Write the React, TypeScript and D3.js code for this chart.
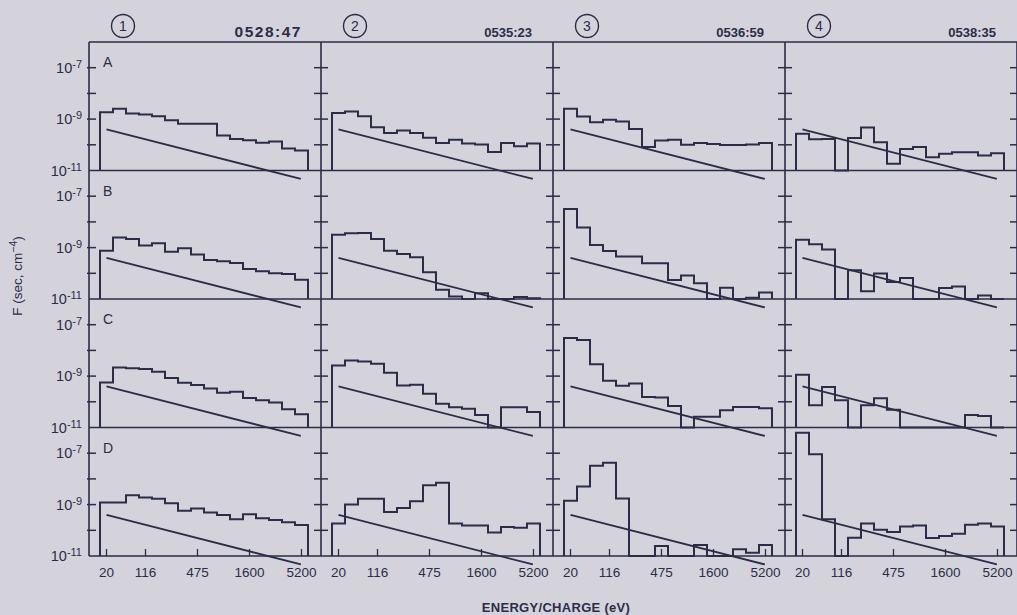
import React from 'react';
import * as d3 from 'd3';

const W = 1017;
const H = 615;

const panelNumbers = ['1', '2', '3', '4'];
const times = ['0528:47', '0535:23', '0536:59', '0538:35'];
const rowLetters = ['A', 'B', 'C', 'D'];
const energyLabels = ['20', '116', '475', '1600', '5200'];
const energyChannels = [0, 3, 7, 11, 15];
const yLabelExps = [-7, -9, -11];
const yTickExps = [-7, -8, -9, -10];
const nChannels = 16;

// log10 F for each of the 16 energy channels, null = no counts
const p1A = [-8.73, -8.6, -8.78, -8.82, -8.89, -9.04, -9.18, -9.18, -9.18, -9.64, -9.77, -9.82, -9.92, -9.87, -10.14, -10.22];
const p2A = [-8.76, -8.7, -8.89, -9.32, -9.54, -9.44, -9.54, -9.73, -9.93, -9.8, -9.95, -9.99, -10.28, -9.93, -10.06, -9.95];
const p3A = [-8.6, -8.9, -9.12, -9.03, -9.09, -9.39, -10.09, -9.83, -9.8, -10.0, -9.93, -9.97, -10.01, -10.01, -9.99, -9.93];
const p4A = [-9.57, -9.78, -9.77, null, -9.74, -9.33, -9.9, -10.74, -10.16, -10.09, -10.48, -10.35, -10.29, -10.29, -10.42, -10.33];

const p1B = [-9.12, -8.61, -8.67, -8.92, -8.83, -9.16, -9.03, -9.27, -9.48, -9.53, -9.6, -9.83, -9.92, -10.0, -10.03, -10.25];
const p2B = [-8.5, -8.44, -8.43, -8.67, -9.12, -9.25, -9.38, -9.96, -10.64, -10.9, null, -10.78, null, null, -10.92, -10.97];
const p3B = [-7.5, -8.22, -8.9, -9.13, -9.35, -9.35, -9.61, -9.61, -10.26, -10.09, -10.39, null, -10.56, null, -10.95, -10.75];
const p4B = [-8.69, -8.87, -9.07, null, -9.88, -10.7, -10.01, -10.34, -10.18, null, null, -10.57, -10.51, null, -10.86, null];

const p1C = [-9.25, -8.67, -8.69, -8.72, -8.83, -9.07, -9.26, -9.35, -9.48, -9.65, -9.61, -9.85, -9.94, -10.03, -10.29, -10.48];
const p2C = [-8.59, -8.39, -8.43, -8.52, -8.87, -9.37, -9.34, -9.69, -10.08, -10.21, -10.27, -10.51, null, -10.21, -10.21, -10.4];
const p3C = [-7.52, -7.6, -8.54, -9.18, -9.38, -9.29, -9.81, -9.83, -10.16, null, -10.58, -10.58, -10.33, -10.2, -10.2, -10.25];
const p4C = [-8.95, -10.13, -9.42, -9.94, null, -10.13, -9.86, -10.31, null, null, null, null, null, -10.51, -10.55, null];

const p1D = [-8.92, -8.92, -8.64, -8.72, -8.77, -8.95, -9.24, -9.15, -9.31, -9.4, -9.57, -9.38, -9.53, -9.6, -9.69, -9.79];
const p2D = [-9.74, -9.0, -8.77, -8.77, -9.29, -9.13, -8.87, -8.25, -8.15, -9.74, -9.81, -9.81, -10.09, -9.87, -9.9, -9.74];
const p3D = [-8.85, -8.3, -7.49, -7.37, -8.76, null, null, -10.61, null, null, -10.57, null, null, -10.74, -10.87, -10.57];
const p4D = [-6.2, -7.04, -9.57, null, -10.29, -9.74, -9.98, -10.07, -9.85, -9.81, -10.3, -10.22, -10.13, -9.78, -9.74, -9.85];

// reference line (channel, log10 F), same in every panel
const refChannels = [0.5, 15.45];
const refExps = [-9.4, -11.33];

const panels = [
  [p1A, p2A, p3A, p4A],
  [p1B, p2B, p3B, p4B],
  [p1C, p2C, p3C, p4C],
  [p1D, p2D, p3D, p4D],
];

const ink = '#2b2d48';
const font = '"Liberation Sans", Arial, Helvetica, sans-serif';

export default function App() {
  const xCol = d3.scaleLinear().domain([0, 4]).range([89, 1017]);
  const yRow = d3.scaleLinear().domain([0, 4]).range([42, 556]);

  const xIn = (c: number) =>
    d3.scaleLinear().domain([0, nChannels]).range([xCol(c) + 11, xCol(c) + 219]);
  const yIn = (r: number) =>
    d3.scaleLog().domain([1e-11, 1e-6]).range([yRow(r + 1), yRow(r)]);

  const items: React.ReactNode[] = [];

  panels.forEach((row, r) => {
    const y = yIn(r);
    row.forEach((vals, c) => {
      const x = xIn(c);
      const pts: [number, number][] = [[0, 1e-11]];
      vals.forEach((e, i) => {
        const v = e == null ? 1e-11 : Math.pow(10, e);
        pts.push([i, v], [i + 1, v]);
      });
      pts.push([nChannels, 1e-11]);
      const line = d3
        .line<[number, number]>()
        .x((d) => x(d[0]))
        .y((d) => y(d[1]));
      items.push(
        <path key={`h${r}${c}`} d={line(pts) || ''} fill="none" stroke={ink}
          strokeWidth={2} strokeLinejoin="miter" />
      );
      const ref: [number, number][] = refChannels.map((ch, i) => [ch, Math.pow(10, refExps[i])]);
      items.push(
        <path key={`r${r}${c}`} d={line(ref) || ''} fill="none" stroke={ink} strokeWidth={1.8} />
      );
    });

    // ticks on vertical separators
    d3.range(5).forEach((c) => {
      const xs = xCol(c);
      yTickExps.forEach((e) => {
        const yy = y(Math.pow(10, e));
        const x1 = c === 0 ? xs - 2 : xs - 7;
        const x2 = c === 4 ? xs : xs + 7;
        items.push(
          <line key={`t${r}${c}${e}`} x1={x1} x2={x2} y1={yy} y2={yy} stroke={ink} strokeWidth={1.5} />
        );
      });
    });

    // left tick labels
    yLabelExps.forEach((e) => {
      const yy = y(Math.pow(10, e));
      items.push(
        <text key={`yl${r}${e}`} x={82} y={yy + 5} textAnchor="end" fontSize={14.5} fill={ink}>
          <tspan>10</tspan>
          <tspan dy={-5} fontSize={11}>{String(e)}</tspan>
        </text>
      );
    });

    items.push(
      <text key={`lt${r}`} x={xCol(0) + 14} y={yRow(r) + 25} fontSize={14} fill={ink}>
        {rowLetters[r]}
      </text>
    );
  });

  // x ticks and labels on the bottom row
  const yBottom = yRow(4);
  d3.range(4).forEach((c) => {
    const x = xIn(c);
    energyChannels.forEach((ch, i) => {
      const xx = x(ch + 0.5);
      items.push(
        <line key={`xt${c}${i}`} x1={xx} x2={xx} y1={yBottom} y2={yBottom - 7} stroke={ink} strokeWidth={1.3} />
      );
      items.push(
        <text key={`xl${c}${i}`} x={xx} y={yBottom + 21} textAnchor="middle" fontSize={13.5} fill={ink}>
          {energyLabels[i]}
        </text>
      );
    });
  });

  // header
  d3.range(4).forEach((c) => {
    const cx = xCol(c) + 34;
    items.push(
      <g key={`hd${c}`}>
        <circle cx={cx} cy={26} r={11.5} fill="none" stroke={ink} strokeWidth={1.4} />
        <text x={cx} y={31} textAnchor="middle" fontSize={14} fill={ink}>{panelNumbers[c]}</text>
        <text x={xCol(c) + (c === 0 ? 213 : 211)} y={37} textAnchor="end"
          fontSize={c === 0 ? 15.5 : 13} fontWeight="bold" letterSpacing={c === 0 ? 1.5 : 0}
          fill={ink}>{times[c]}</text>
      </g>
    );
  });

  return (
    <svg width={W} height={H} style={{ position: 'absolute', left: 0, top: 0, background: '#d4d3dc' }}
      fontFamily={font}>
      <rect x={0} y={0} width={W} height={H} fill="#d4d3dc" />
      {/* frame */}
      {d3.range(5).map((r) => (
        <line key={`hr${r}`} x1={xCol(0)} x2={xCol(4)} y1={yRow(r)} y2={yRow(r)} stroke={ink} strokeWidth={1.6} />
      ))}
      {d3.range(5).map((c) => (
        <line key={`vc${c}`} x1={xCol(c)} x2={xCol(c)} y1={yRow(0)} y2={yRow(4)} stroke={ink} strokeWidth={1.6} />
      ))}
      {items}
      <text x={556} y={612} textAnchor="middle" fontSize={13} fontWeight="bold" fill={ink} letterSpacing={0.3}>
        ENERGY/CHARGE (eV)
      </text>
      <text transform="translate(22,276) rotate(-90)" textAnchor="middle" fontSize={13.5} fill={ink}>
        <tspan>F (sec, cm</tspan>
        <tspan dy={-5} fontSize={10.5}>−4</tspan>
        <tspan dy={5}>)</tspan>
      </text>
    </svg>
  );
}
